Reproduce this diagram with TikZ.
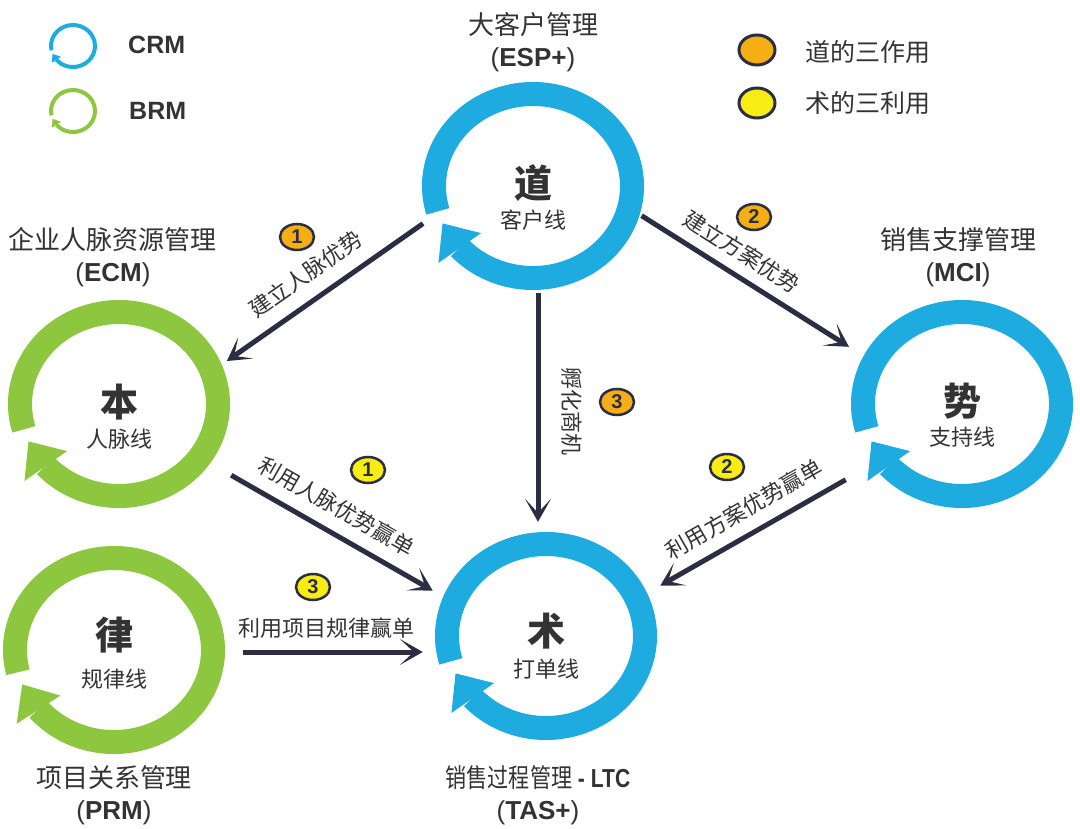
\documentclass[tikz,border=0pt]{standalone}
\usepackage{fontspec}
\usepackage{graphicx}
\setmainfont{Liberation Sans}
\newfontfamily\cjk{Noto Sans CJK SC}
\usetikzlibrary{arrows.meta,bending,shapes.geometric}

\definecolor{crmblue}{HTML}{1EACE0}
\definecolor{brmgreen}{HTML}{8DC63F}
\definecolor{inkdark}{HTML}{2B2D42}
\definecolor{textgray}{HTML}{333333}
\definecolor{badgeorange}{HTML}{F6AE15}
\definecolor{badgeyellow}{HTML}{F7EC13}

\tikzset{
	ringbox/.style={ellipse, minimum width=222pt, minimum height=208pt, inner sep=0pt},
	bigring/.style={line width=24pt, -{Triangle[length=30pt,width=52pt,line width=0pt]}},
	keyring/.style={line width=4pt, -{Triangle[length=7pt,width=11pt,line width=0pt]}},
	flow/.style={inkdark, line width=5pt, -{Stealth[length=23pt,width=26pt,inset=14pt,line width=0pt]}},
	corechar/.style={text=textgray, font=\cjk\bfseries\fontsize{38}{40}\selectfont, inner sep=0pt},
	coresub/.style={text=textgray, font=\cjk\fontsize{22}{24}\selectfont, inner sep=0pt},
	flowlabel/.style={text=textgray, font=\cjk\fontsize{22}{24}\selectfont, inner sep=0pt},
	headline/.style={text=textgray, align=center, font=\fontsize{26}{32}\selectfont, inner sep=0pt},
	badge/.style={ellipse, draw=inkdark, line width=2.5pt, minimum width=34pt, minimum height=26pt,
		inner sep=0pt, text=inkdark, font=\bfseries\fontsize{20}{20}\selectfont},
	keydot/.style={ellipse, draw=inkdark, line width=3pt, minimum width=36pt, minimum height=30pt, inner sep=0pt},
	keylabel/.style={text=textgray, font=\bfseries\fontsize{25}{25}\selectfont, inner sep=0pt, anchor=west},
	keytext/.style={text=textgray, font=\cjk\fontsize{25}{25}\selectfont, inner sep=0pt, anchor=west}
}

\begin{document}
\begin{tikzpicture}[x=1pt,y=-1pt]
	% canvas - pixel units, y down
	\path[use as bounding box, fill=white] (0,0) rectangle (1080,829);
	% legend, left
	\coordinate (crmkey) at (73,46);
	\coordinate (brmkey) at (73,111);
	\draw[keyring, crmblue] ([shift={(168:22 and 21)}]crmkey) arc[start angle=168, end angle=518, x radius=22, y radius=21];
	\draw[keyring, brmgreen] ([shift={(168:22 and 21)}]brmkey) arc[start angle=168, end angle=518, x radius=22, y radius=21];
	\node[keylabel] (crm) at (128,45) {CRM};
	\node[keylabel] (brm) at (129,111) {BRM};
	% legend, right
	\node[keydot, fill=badgeorange] (dotdao) at (757,50) {};
	\node[keydot, fill=badgeyellow] (dotshu) at (757,103) {};
	\node[keytext] (keydao) at (805,52) {道的三作用};
	\node[keytext] (keyshu) at (805,103) {术的三利用};
	% CRM rings
	\node[ringbox] (dao) at (533,186) {};
	\node[ringbox] (shi) at (962,404) {};
	\node[ringbox] (shu) at (546,636) {};
	\draw[bigring, crmblue] ([shift={(164:99 and 92)}]dao.center) arc[start angle=164, end angle=516, x radius=99, y radius=92];
	\draw[bigring, crmblue] ([shift={(164:99 and 92)}]shi.center) arc[start angle=164, end angle=516, x radius=99, y radius=92];
	\draw[bigring, crmblue] ([shift={(164:99 and 92)}]shu.center) arc[start angle=164, end angle=516, x radius=99, y radius=92];
	% BRM rings
	\node[ringbox] (ben) at (119,404) {};
	\node[ringbox] (lv) at (114,650) {};
	\draw[bigring, brmgreen] ([shift={(164:99 and 92)}]ben.center) arc[start angle=164, end angle=516, x radius=99, y radius=92];
	\draw[bigring, brmgreen] ([shift={(166:99 and 92)}]lv.center) arc[start angle=166, end angle=518, x radius=99, y radius=92];
	% ring texts
	\node[corechar] (daochar) at ([yshift=2.5pt]dao.center) {道};
	\node[coresub] (daosub) at ([yshift=-34pt]dao.center) {客户线};
	\node[corechar] (shichar) at ([yshift=3pt]shi.center) {势};
	\node[coresub] (shisub) at ([yshift=-33.5pt]shi.center) {支持线};
	\node[corechar] (shuchar) at ([yshift=4.5pt]shu.center) {术};
	\node[coresub] (shusub) at ([yshift=-33pt]shu.center) {打单线};
	\node[corechar] (benchar) at ([yshift=2pt]ben.center) {本};
	\node[coresub] (bensub) at ([yshift=-35pt]ben.center) {人脉线};
	\node[corechar] (lvchar) at ([yshift=15pt]lv.center) {律};
	\node[coresub] (lvsub) at ([yshift=-29.5pt]lv.center) {规律线};
	% titles
	\node[headline] (esp) at (533,42) {{\cjk 大客户管理}\\(\textbf{ESP+})};
	\node[headline] (ecm) at (113,257) {{\cjk 企业人脉资源管理}\\(\textbf{ECM})};
	\node[headline] (mci) at (958,257) {{\cjk 销售支撑管理}\\(\textbf{MCI})};
	\node[headline] (prm) at (114,795) {{\cjk 项目关系管理}\\(\textbf{PRM})};
	\node[headline] (tas) at (538,795) {\scalebox{0.81}[1]{{\cjk 销售过程管理} \textbf{- LTC}}\\(\textbf{TAS+})};
	% connectors
	\draw[flow, shorten <=6pt, shorten >=6pt] (dao.198) -- (ben.21);
	\draw[flow, shorten <=2pt, shorten >=17pt] (dao.345) -- (shi.154);
	\draw[flow, shorten <=3pt, shorten >=10pt] ([xshift=5pt]dao.south) -- ([xshift=-8pt]shu.north);
	\draw[flow, shorten <=24pt, shorten >=12pt] (ben.327) -- (shu.159);
	\draw[flow, shorten <=30pt, shorten >=15pt] (shi.214) -- (shu.23);
	\draw[flow, shorten <=18pt, shorten >=12pt] ([yshift=-2pt]lv.east) -- ([yshift=-2pt]lv.east -| shu.west);
	% connector texts
	\node[flowlabel, rotate=35] (labben) at (305.5,274) {建立人脉优势};
	\node[flowlabel, rotate=-32.3] (labshi) at (741.5,251.5) {建立方案优势};
	\node[flowlabel, rotate=-90] (labshu) at (571.5,411.5) {孵化商机};
	\node[flowlabel, rotate=-29.7] (labwin1) at (336.7,506.5) {利用人脉优势赢单};
	\node[flowlabel, rotate=29.8] (labwin2) at (744,509) {利用方案优势赢单};
	\node[flowlabel] (labwin3) at (326.7,628) {利用项目规律赢单};
	% badges
	\node[badge, fill=badgeorange] (dao1) at (297,237) {1};
	\node[badge, fill=badgeorange] (dao2) at (754,217) {2};
	\node[badge, fill=badgeorange] (dao3) at (617,402) {3};
	\node[badge, fill=badgeyellow] (shu1) at (368,470) {1};
	\node[badge, fill=badgeyellow] (shu2) at (727,467) {2};
	\node[badge, fill=badgeyellow] (shu3) at (313,587) {3};
\end{tikzpicture}
\end{document}
